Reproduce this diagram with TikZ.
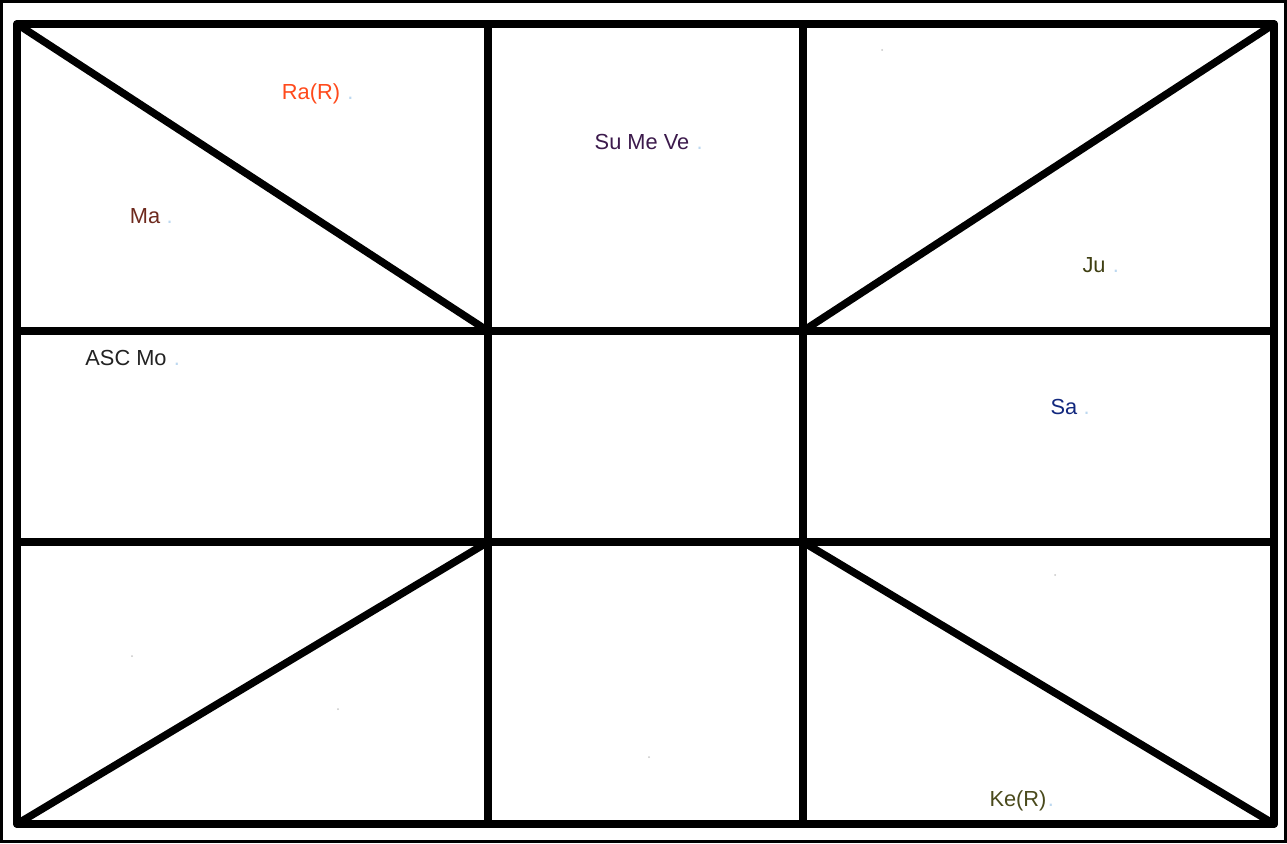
\documentclass[tikz,border=0pt]{standalone}
\usepackage{fontspec}
\setmainfont{Liberation Sans}
\definecolor{raC}{HTML}{FF4A1C}
\definecolor{suC}{HTML}{3C1A4C}
\definecolor{maC}{HTML}{6E2A1E}
\definecolor{juC}{HTML}{3F3F12}
\definecolor{ascC}{HTML}{222222}
\definecolor{saC}{HTML}{12287E}
\definecolor{keC}{HTML}{4A4A1C}
\definecolor{dotC}{HTML}{BCD8F0}
\definecolor{faintC}{HTML}{C8C8C8}
\definecolor{haloC}{HTML}{8A8A8A}
\begin{document}
\begin{tikzpicture}[x=1pt,y=-1pt,
  grid/.style={line width=7.5pt,black,line cap=round,line join=round},
  lbl/.style={inner sep=0pt,font=\fontsize{21.8}{26}\selectfont},
  dotlbl/.style={inner sep=0pt,font=\fontsize{21.8}{26}\selectfont,text=dotC},
  faint/.style={fill=faintC,inner sep=0pt,minimum size=2pt,circle}]
\useasboundingbox (0,0) rectangle (1287,843);
\fill[white] (0,0) rectangle (1287,843);
\draw[line width=3pt,black] (1.5,1.5) rectangle (1285.5,841.5);
% grid coordinates
\coordinate (TL) at (17,24);
\coordinate (TR) at (1274,24);
\coordinate (BL) at (17,824);
\coordinate (BR) at (1274,824);
\coordinate (A1) at (488,24);
\coordinate (A2) at (803,24);
\coordinate (B1) at (488,824);
\coordinate (B2) at (803,824);
\coordinate (L1) at (17,331);
\coordinate (R1) at (1274,331);
\coordinate (L2) at (17,542);
\coordinate (R2) at (1274,542);
\coordinate (C11) at (488,331);
\coordinate (C12) at (803,331);
\coordinate (C21) at (488,542);
\coordinate (C22) at (803,542);
\draw[grid] (TL) -- (TR) -- (BR) -- (BL) -- cycle;
\draw[grid] (A1) -- (B1);
\draw[grid] (A2) -- (B2);
\draw[grid] (L1) -- (R1);
\draw[grid] (L2) -- (R2);
\draw[grid] (TL) -- (C11);
\draw[grid] (TR) -- (C12);
\draw[grid] (BL) -- (C21);
\draw[grid] (BR) -- (C22);
% labels
\node[lbl,text=raC] (ra) at (311,94) {Ra(R)};
\node[dotlbl,anchor=base west] (rad) at ([xshift=7pt]ra.base east) {.};
\node[lbl,text=suC] (su) at (642,142) {Su Me Ve};
\node[dotlbl,anchor=base west] (sud) at ([xshift=7pt]su.base east) {.};
\node[lbl,text=maC] (ma) at (145,216) {Ma};
\node[dotlbl,anchor=base west] (mad) at ([xshift=6pt]ma.base east) {.};
\node[lbl,text=juC] (ju) at (1094,265) {Ju};
\node[dotlbl,anchor=base west] (jud) at ([xshift=7pt]ju.base east) {.};
\node[lbl,text=ascC] (asc) at (126,358) {ASC Mo};
\node[dotlbl,anchor=base west] (ascd) at ([xshift=7pt]asc.base east) {.};
\node[lbl,text=saC] (sa) at (1064,407) {Sa};
\node[dotlbl,anchor=base west] (sad) at ([xshift=6pt]sa.base east) {.};
\node[lbl,text=keC] (ke) at (1018,801) {Ke(R)};
\node[dotlbl,anchor=base west] (ked) at ([xshift=1pt]ke.base east) {.};
% faint dots in empty houses
\node[faint] (f1) at (882,50) {};
\node[faint] (f2) at (1055,575) {};
\node[faint] (f3) at (132,656) {};
\node[faint] (f4) at (338,709) {};
\node[faint] (f5) at (649,757) {};
\end{tikzpicture}
\end{document}
